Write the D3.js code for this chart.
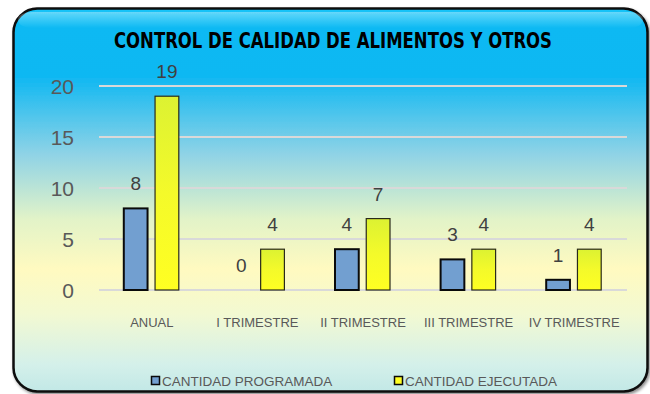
<!DOCTYPE html>
<html>
<head>
<meta charset="utf-8">
<script src="https://cdn.jsdelivr.net/npm/d3@7"></script>
<style>
  html, body { margin: 0; padding: 0; background: #ffffff; }
  svg { display: block; }
</style>
</head>
<body>
<svg id="chart" width="650" height="394"></svg>
<script>
// Chart data
const categories = ["ANUAL", "I TRIMESTRE", "II TRIMESTRE", "III TRIMESTRE", "IV TRIMESTRE"];
const programada = [8, 0, 4, 3, 1];
const ejecutada = [19, 4, 7, 4, 4];
const seriesNames = ["CANTIDAD PROGRAMADA", "CANTIDAD EJECUTADA"];
const yTicks = [0, 5, 10, 15, 20];
const title = "CONTROL DE CALIDAD DE ALIMENTOS Y OTROS";

const svg = d3.select("#chart");
const defs = svg.append("defs");

// Panel background gradient (sky blue -> pale yellow -> pale cyan)
const bg = defs.append("linearGradient").attr("id", "bgGrad")
  .attr("x1", 0).attr("y1", 0).attr("x2", 0).attr("y2", 1);
[
  [0, "#14c4f8"], [0.05, "#0ab9f3"], [0.18, "#10b8f2"], [0.38, "#8fd3e6"],
  [0.55, "#e2f3c8"], [0.68, "#fffac0"], [0.8, "#f2f9d2"], [0.93, "#d4f0ea"], [1, "#c2e8e6"]
].forEach(([o, c]) => bg.append("stop").attr("offset", o).attr("stop-color", c));

// Yellow bar gradient
const yg = defs.append("linearGradient").attr("id", "yellowGrad")
  .attr("x1", 0).attr("y1", 0).attr("x2", 0).attr("y2", 1);
yg.append("stop").attr("offset", 0).attr("stop-color", "#dcf232");
yg.append("stop").attr("offset", 0.5).attr("stop-color", "#f4fa2a");
yg.append("stop").attr("offset", 1).attr("stop-color", "#ffff22");

// Soft shadow for the panel
const sh = defs.append("filter").attr("id", "panelShadow")
  .attr("x", -0.05).attr("y", -0.05).attr("width", 1.1).attr("height", 1.1);
sh.append("feDropShadow").attr("dx", 1.5).attr("dy", 2).attr("stdDeviation", 1.5)
  .attr("flood-color", "#000").attr("flood-opacity", 0.45);

// Panel
svg.append("rect")
  .attr("x", 13.5).attr("y", 8.5).attr("width", 634).attr("height", 383)
  .attr("rx", 24).attr("ry", 24)
  .attr("fill", "url(#bgGrad)")
  .attr("stroke", "#0a0a0a").attr("stroke-width", 2.5)
  .attr("filter", "url(#panelShadow)");

// Top highlight band
const hl = defs.append("linearGradient").attr("id", "hlGrad")
  .attr("x1", 0).attr("y1", 0).attr("x2", 0).attr("y2", 1);
hl.append("stop").attr("offset", 0).attr("stop-color", "#ffffff").attr("stop-opacity", 0.35);
hl.append("stop").attr("offset", 1).attr("stop-color", "#ffffff").attr("stop-opacity", 0);
svg.append("rect")
  .attr("x", 18).attr("y", 12).attr("width", 625).attr("height", 16)
  .attr("rx", 14).attr("fill", "url(#hlGrad)");

// Scales
const x0 = d3.scaleBand().domain(categories).range([99, 627]).padding(0);
const x1 = d3.scaleBand().domain(seriesNames).range([-28, 27]).paddingInner(0.24);
const y = d3.scaleLinear().domain([0, 20]).range([290, 86]);

// Gridlines
svg.append("g").selectAll("line").data(yTicks).join("line")
  .attr("x1", 99).attr("x2", 627)
  .attr("y1", d => y(d)).attr("y2", d => y(d))
  .attr("stroke", "#d9d9d9").attr("stroke-width", 2);

// Y axis labels
const yAxis = d3.axisLeft(y).tickValues(yTicks).tickSize(0).tickPadding(0);
const yg2 = svg.append("g").attr("transform", "translate(74,0)").call(yAxis);
yg2.select(".domain").remove();
yg2.selectAll("text")
  .attr("font-family", "Liberation Sans, Arial, sans-serif")
  .attr("font-size", 21).attr("fill", "#595959").attr("dy", "0.36em");

// Title
svg.append("text")
  .attr("x", 333).attr("y", 48)
  .attr("text-anchor", "middle")
  .attr("font-family", "'Liberation Sans Narrow', 'Arial Narrow', 'DejaVu Sans Condensed', sans-serif")
  .attr("font-weight", "bold").attr("font-size", 21)
  .attr("textLength", 438).attr("lengthAdjust", "spacingAndGlyphs")
  .attr("fill", "#000")
  .text(title);

// Bars
const rows = categories.map((c, i) => ({ cat: c, vals: [programada[i], ejecutada[i]] }));
const groups = svg.append("g").selectAll("g").data(rows).join("g")
  .attr("transform", d => `translate(${x0(d.cat) + x0.bandwidth() / 2},0)`);

const fills = ["#729fd0", "url(#yellowGrad)"];
const strokes = ["#0a0a0a", "#2a2a1a"];
const sw = [2, 1.2];

groups.selectAll("rect").data(d => d.vals.map((v, k) => ({ v, k }))).join("rect")
  .filter(d => d.v > 0)
  .attr("x", d => x1(seriesNames[d.k]))
  .attr("width", x1.bandwidth())
  .attr("y", d => y(d.v))
  .attr("height", d => y(0) - y(d.v))
  .attr("fill", d => fills[d.k])
  .attr("stroke", d => strokes[d.k])
  .attr("stroke-width", d => sw[d.k]);

// Value labels
groups.selectAll("text.val").data(d => d.vals.map((v, k) => ({ v, k }))).join("text")
  .attr("class", "val")
  .attr("x", d => x1(seriesNames[d.k]) + x1.bandwidth() / 2)
  .attr("y", d => y(d.v) - 18)
  .attr("text-anchor", "middle")
  .attr("font-family", "Liberation Sans, Arial, sans-serif")
  .attr("font-size", 19).attr("fill", "#404040")
  .text(d => d.v);

// Category labels
const xAxis = d3.axisBottom(x0).tickSize(0).tickPadding(0);
const xg = svg.append("g").attr("transform", "translate(0,327)").call(xAxis);
xg.select(".domain").remove();
xg.selectAll("text")
  .attr("font-family", "Liberation Sans, Arial, sans-serif")
  .attr("font-size", 13).attr("fill", "#595959").attr("dy", 0);

// Legend
const legendX = [151, 394];
const lg = svg.append("g").selectAll("g").data(seriesNames).join("g")
  .attr("transform", (d, i) => `translate(${legendX[i]},376)`);
lg.append("rect")
  .attr("x", 0.5).attr("y", 0.5).attr("width", 8).attr("height", 8)
  .attr("fill", (d, i) => i === 0 ? "#729fd0" : "#ffff22")
  .attr("stroke", "#0a0a0a").attr("stroke-width", 1.5);
lg.append("text")
  .attr("x", 11).attr("y", 10)
  .attr("font-family", "Liberation Sans, Arial, sans-serif")
  .attr("font-size", 13.5).attr("fill", "#595959")
  .text(d => d);
</script>
</body>
</html>
